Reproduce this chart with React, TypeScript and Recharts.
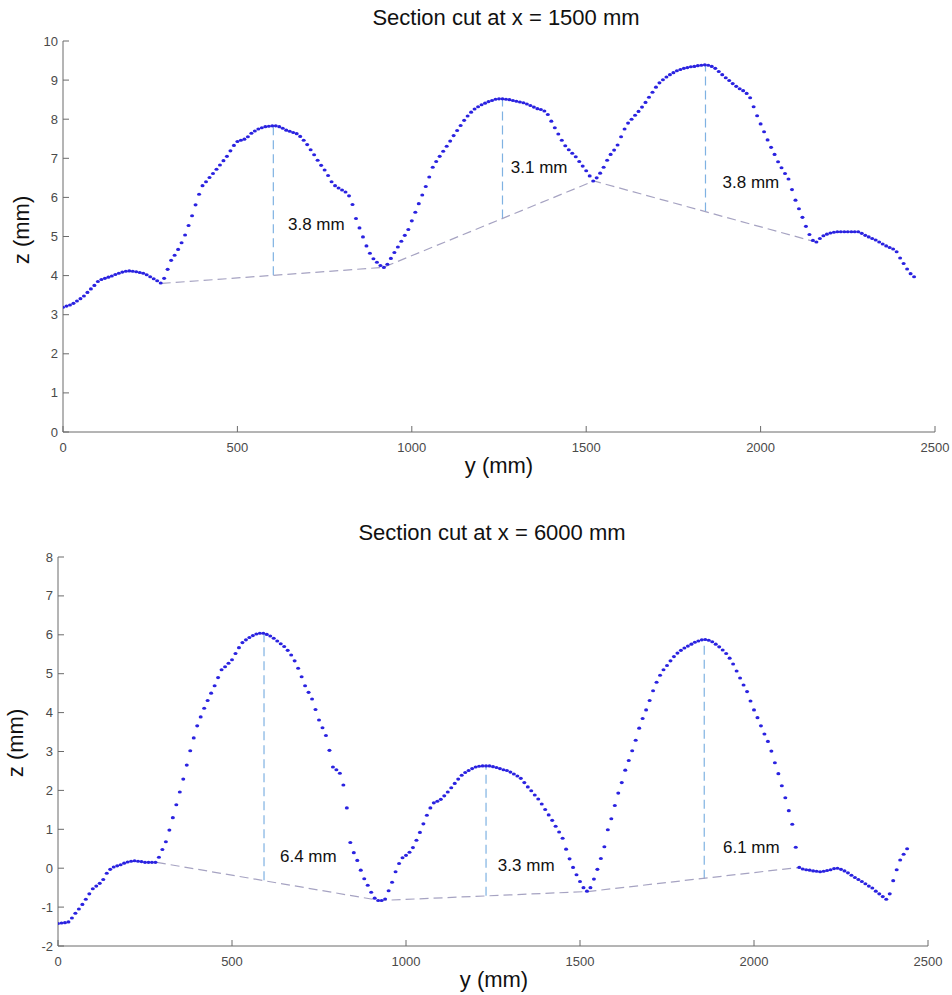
import React from 'react';
import { ScatterChart, Scatter, XAxis, YAxis, ReferenceLine } from 'recharts';

// Sampling grid of the scans (mm along y)
const SAMPLE_STEP_MM = 10;

// Section cut at x = 1500 mm: measured z (mm) every 10 mm of y
const zCut1500 = [
  3.19, 3.22, 3.25, 3.29, 3.35, 3.41, 3.48, 3.57, 3.66, 3.75,
  3.85, 3.90, 3.93, 3.96, 3.99, 4.03, 4.06, 4.09, 4.11, 4.12,
  4.11, 4.10, 4.08, 4.06, 4.02, 3.97, 3.92, 3.87, 3.81, 3.93,
  4.16, 4.39, 4.52, 4.67, 4.84, 5.04, 5.28, 5.53, 5.81, 6.08,
  6.30, 6.40, 6.51, 6.61, 6.72, 6.83, 6.94, 7.05, 7.19, 7.33,
  7.43, 7.46, 7.49, 7.55, 7.64, 7.70, 7.75, 7.78, 7.81, 7.82,
  7.83, 7.83, 7.81, 7.77, 7.72, 7.69, 7.66, 7.63, 7.56, 7.46,
  7.35, 7.22, 7.09, 6.95, 6.82, 6.70, 6.56, 6.40, 6.30, 6.24,
  6.19, 6.14, 6.04, 5.82, 5.46, 5.22, 4.99, 4.76, 4.57, 4.43,
  4.34, 4.26, 4.21, 4.29, 4.44, 4.59, 4.73, 4.88, 5.03, 5.18,
  5.40, 5.62, 5.84, 6.06, 6.28, 6.52, 6.77, 6.92, 7.05, 7.18,
  7.31, 7.44, 7.58, 7.71, 7.84, 7.97, 8.08, 8.18, 8.26, 8.32,
  8.37, 8.41, 8.45, 8.48, 8.51, 8.52, 8.52, 8.51, 8.50, 8.48,
  8.46, 8.44, 8.42, 8.39, 8.35, 8.31, 8.27, 8.25, 8.21, 8.12,
  7.95, 7.78, 7.62, 7.46, 7.32, 7.22, 7.13, 7.04, 6.92, 6.80,
  6.68, 6.55, 6.42, 6.50, 6.62, 6.77, 6.95, 7.10, 7.21, 7.34,
  7.55, 7.75, 7.90, 8.00, 8.10, 8.20, 8.31, 8.43, 8.56, 8.69,
  8.82, 8.93, 9.01, 9.08, 9.14, 9.19, 9.24, 9.27, 9.30, 9.32,
  9.34, 9.35, 9.37, 9.38, 9.39, 9.38, 9.35, 9.30, 9.22, 9.14,
  9.06, 8.99, 8.91, 8.84, 8.78, 8.73, 8.66, 8.55, 8.32, 8.09,
  7.88, 7.68, 7.47, 7.28, 7.10, 6.91, 6.76, 6.61, 6.47, 6.20,
  5.93, 5.71, 5.49, 5.26, 5.05, 4.90, 4.86, 4.95, 5.02, 5.06,
  5.09, 5.11, 5.12, 5.12, 5.12, 5.12, 5.12, 5.12, 5.12, 5.08,
  5.03, 4.99, 4.95, 4.91, 4.86, 4.81, 4.76, 4.72, 4.68, 4.61,
  4.45, 4.31, 4.17, 4.05, 3.97,
];

// Section cut at x = 6000 mm: measured z (mm) every 10 mm of y
const zCut6000 = [
  -1.42, -1.41, -1.40, -1.38, -1.28, -1.16, -1.05, -0.93, -0.80, -0.66,
  -0.53, -0.46, -0.39, -0.29, -0.13, -0.03, 0.03, 0.06, 0.09, 0.13,
  0.16, 0.18, 0.19, 0.18, 0.17, 0.15, 0.15, 0.15, 0.15, 0.28,
  0.48, 0.68, 0.98, 1.30, 1.63, 1.96, 2.29, 2.65, 3.02, 3.35,
  3.66, 3.89, 4.11, 4.31, 4.50, 4.69, 4.90, 5.10, 5.18, 5.27,
  5.36, 5.52, 5.67, 5.80, 5.87, 5.93, 5.98, 6.02, 6.04, 6.04,
  6.01, 5.97, 5.91, 5.84, 5.77, 5.70, 5.60, 5.48, 5.33, 5.14,
  4.92, 4.69, 4.52, 4.35, 4.08, 3.81, 3.61, 3.41, 3.03, 2.60,
  2.53, 2.44, 2.14, 1.55, 0.66, 0.40, 0.20, -0.05, -0.27, -0.44,
  -0.62, -0.77, -0.83, -0.83, -0.79, -0.58, -0.36, -0.09, 0.12, 0.27,
  0.33, 0.41, 0.53, 0.72, 0.92, 1.14, 1.36, 1.55, 1.68, 1.72,
  1.77, 1.86, 1.96, 2.07, 2.18, 2.29, 2.39, 2.46, 2.51, 2.56,
  2.60, 2.62, 2.63, 2.63, 2.63, 2.61, 2.59, 2.56, 2.53, 2.51,
  2.47, 2.42, 2.37, 2.31, 2.20, 2.09, 1.99, 1.88, 1.78, 1.65,
  1.51, 1.37, 1.23, 1.08, 0.93, 0.77, 0.49, 0.24, 0.02, -0.17,
  -0.34, -0.50, -0.59, -0.50, -0.28, -0.03, 0.25, 0.55, 0.99, 1.27,
  1.61, 1.93, 2.20, 2.52, 2.77, 3.02, 3.29, 3.60, 3.85, 4.07,
  4.31, 4.56, 4.78, 4.96, 5.10, 5.21, 5.33, 5.44, 5.53, 5.60,
  5.66, 5.71, 5.76, 5.81, 5.84, 5.87, 5.88, 5.86, 5.82, 5.76,
  5.69, 5.61, 5.52, 5.40, 5.25, 5.07, 4.89, 4.71, 4.54, 4.30,
  4.07, 3.87, 3.66, 3.45, 3.26, 3.01, 2.71, 2.43, 2.12, 1.81,
  1.48, 1.13, 0.54, 0.02, -0.02, -0.04, -0.05, -0.07, -0.08, -0.09,
  -0.08, -0.06, -0.04, -0.01, 0.00, -0.03, -0.07, -0.12, -0.18, -0.24,
  -0.29, -0.34, -0.40, -0.46, -0.51, -0.59, -0.66, -0.73, -0.80, -0.66,
  -0.32, -0.04, 0.21, 0.36, 0.50,
];

// Dashed baselines joining the troughs
const baseline1500 = [
  { y: 283, z: 3.80 },
  { y: 918, z: 4.21 },
  { y: 1522, z: 6.42 },
  { y: 2158, z: 4.86 },
];
const baseline6000 = [
  { y: 284, z: 0.15 },
  { y: 925, z: -0.83 },
  { y: 1522, z: -0.60 },
  { y: 2130, z: 0.02 },
];

// Height measurements (vertical dashed lines)
const heights1500 = [
  { y: 603, zBase: 4.01, zTop: 7.83 },
  { y: 1260, zBase: 5.46, zTop: 8.52 },
  { y: 1842, zBase: 5.64, zTop: 9.39 },
];
const heights6000 = [
  { y: 592, zBase: -0.31, zTop: 6.04 },
  { y: 1230, zBase: -0.71, zTop: 2.63 },
  { y: 1857, zBase: -0.27, zTop: 5.88 },
];

// Annotation labels (anchored at their left/baseline point in data space)
const labels1500 = [
  { y: 645, z: 5.17, text: '3.8 mm' },
  { y: 1284, z: 6.62, text: '3.1 mm' },
  { y: 1891, z: 6.24, text: '3.8 mm' },
];
const labels6000 = [
  { y: 638, z: 0.16, text: '6.4 mm' },
  { y: 1264, z: -0.07, text: '3.3 mm' },
  { y: 1911, z: 0.39, text: '6.1 mm' },
];

const xTicks = [0, 500, 1000, 1500, 2000, 2500];
const yTicks1500 = [0, 1, 2, 3, 4, 5, 6, 7, 8, 9, 10];
const yTicks6000 = [-2, -1, 0, 1, 2, 3, 4, 5, 6, 7, 8];

const FONT = '"Liberation Sans", Arial, Helvetica, sans-serif';
const DOT_COLOR = '#2a22e0';
const AXIS_COLOR = '#6b6b6b';
const TICK_TEXT = '#4a4a4a';
const BASE_COLOR = '#a6a3c2';
const HEIGHT_COLOR = '#7fb2e2';

const toPoints = (zs: number[]) => zs.map((z, i) => ({ y: i * SAMPLE_STEP_MM, z }));

const Dot = (props: any) => {
  const { cx, cy } = props;
  if (cx == null || cy == null) return <g />;
  return <ellipse cx={cx} cy={cy} rx={2.0} ry={1.55} fill={DOT_COLOR} />;
};

const NoDot = () => <g />;

const LabelShape = (props: any) => {
  const { cx, cy, payload } = props;
  if (cx == null || cy == null) return <g />;
  return (
    <text x={cx} y={cy} fontSize={17} fontFamily={FONT} fill="#111">
      {payload.text}
    </text>
  );
};

const XTick = (props: any) => {
  const { x, y, payload } = props;
  return (
    <g>
      <line x1={x} x2={x} y1={y} y2={y - 6} stroke={AXIS_COLOR} strokeWidth={1} />
      <text x={x} y={y + 20} textAnchor="middle" fontSize={13} fontFamily={FONT} fill={TICK_TEXT}>
        {payload.value}
      </text>
    </g>
  );
};

const YTick = (props: any) => {
  const { x, y, payload } = props;
  return (
    <g>
      <line x1={x} x2={x + 6} y1={y} y2={y} stroke={AXIS_COLOR} strokeWidth={1} />
      <text x={x - 5} y={y} dy="0.35em" textAnchor="end" fontSize={13} fontFamily={FONT} fill={TICK_TEXT}>
        {payload.value}
      </text>
    </g>
  );
};

type PanelProps = {
  width: number;
  height: number;
  margin: { top: number; right: number; bottom: number; left: number };
  zs: number[];
  baseline: { y: number; z: number }[];
  heights: { y: number; zBase: number; zTop: number }[];
  labels: { y: number; z: number; text: string }[];
  yDomain: [number, number];
  yTicks: number[];
};

const Panel = ({ width, height, margin, zs, baseline, heights, labels, yDomain, yTicks }: PanelProps) => (
  <ScatterChart width={width} height={height} margin={margin}>
    <XAxis
      type="number"
      dataKey="y"
      domain={[0, 2500]}
      ticks={xTicks}
      height={30}
      tickSize={0}
      tickMargin={0}
      tickLine={false}
      tick={<XTick />}
      axisLine={{ stroke: AXIS_COLOR, strokeWidth: 1 }}
      allowDataOverflow
    />
    <YAxis
      type="number"
      dataKey="z"
      domain={yDomain}
      ticks={yTicks}
      width={40}
      tickSize={0}
      tickMargin={0}
      tickLine={false}
      tick={<YTick />}
      axisLine={{ stroke: AXIS_COLOR, strokeWidth: 1 }}
      allowDataOverflow
    />
    {heights.map((h, i) => (
      <ReferenceLine
        key={'h' + i}
        segment={[{ x: h.y, y: h.zBase }, { x: h.y, y: h.zTop }]}
        stroke={HEIGHT_COLOR}
        strokeWidth={1.2}
        strokeDasharray="9 5"
        ifOverflow="visible"
      />
    ))}
    <Scatter
      data={baseline}
      line={{ stroke: BASE_COLOR, strokeWidth: 1.2, strokeDasharray: '9 5' }}
      shape={<NoDot />}
      isAnimationActive={false}
    />
    <Scatter data={toPoints(zs)} shape={<Dot />} isAnimationActive={false} />
    <Scatter data={labels} shape={<LabelShape />} isAnimationActive={false} />
  </ScatterChart>
);

export default function App() {
  return (
    <div
      style={{
        position: 'absolute',
        left: 0,
        top: 0,
        width: 952,
        height: 995,
        background: '#fff',
        fontFamily: FONT,
      }}
    >
      <div style={{ position: 'absolute', left: 0, top: 0 }}>
        <Panel
          width={952}
          height={490}
          margin={{ top: 41, right: 17, bottom: 28, left: 23 }}
          zs={zCut1500}
          baseline={baseline1500}
          heights={heights1500}
          labels={labels1500}
          yDomain={[0, 10]}
          yTicks={yTicks1500}
        />
      </div>
      <div style={{ position: 'absolute', left: 0, top: 490 }}>
        <Panel
          width={952}
          height={505}
          margin={{ top: 67, right: 24, bottom: 19, left: 18 }}
          zs={zCut6000}
          baseline={baseline6000}
          heights={heights6000}
          labels={labels6000}
          yDomain={[-2, 8]}
          yTicks={yTicks6000}
        />
      </div>
      <svg
        width={952}
        height={995}
        style={{ position: 'absolute', left: 0, top: 0, pointerEvents: 'none' }}
      >
        <text x={506} y={25} textAnchor="middle" fontSize={22} fontFamily={FONT} fill="#111">
          Section cut at x = 1500 mm
        </text>
        <text x={499} y={473} textAnchor="middle" fontSize={22} fontFamily={FONT} fill="#111">
          y (mm)
        </text>
        <text
          x={21}
          y={230}
          textAnchor="middle"
          dy="0.35em"
          fontSize={22}
          fontFamily={FONT}
          fill="#111"
          transform="rotate(-90, 21, 230)"
        >
          z (mm)
        </text>
        <text x={492} y={540} textAnchor="middle" fontSize={22} fontFamily={FONT} fill="#111">
          Section cut at x = 6000 mm
        </text>
        <text x={494} y={987} textAnchor="middle" fontSize={22} fontFamily={FONT} fill="#111">
          y (mm)
        </text>
        <text
          x={15}
          y={743}
          textAnchor="middle"
          dy="0.35em"
          fontSize={22}
          fontFamily={FONT}
          fill="#111"
          transform="rotate(-90, 15, 743)"
        >
          z (mm)
        </text>
      </svg>
    </div>
  );
}
